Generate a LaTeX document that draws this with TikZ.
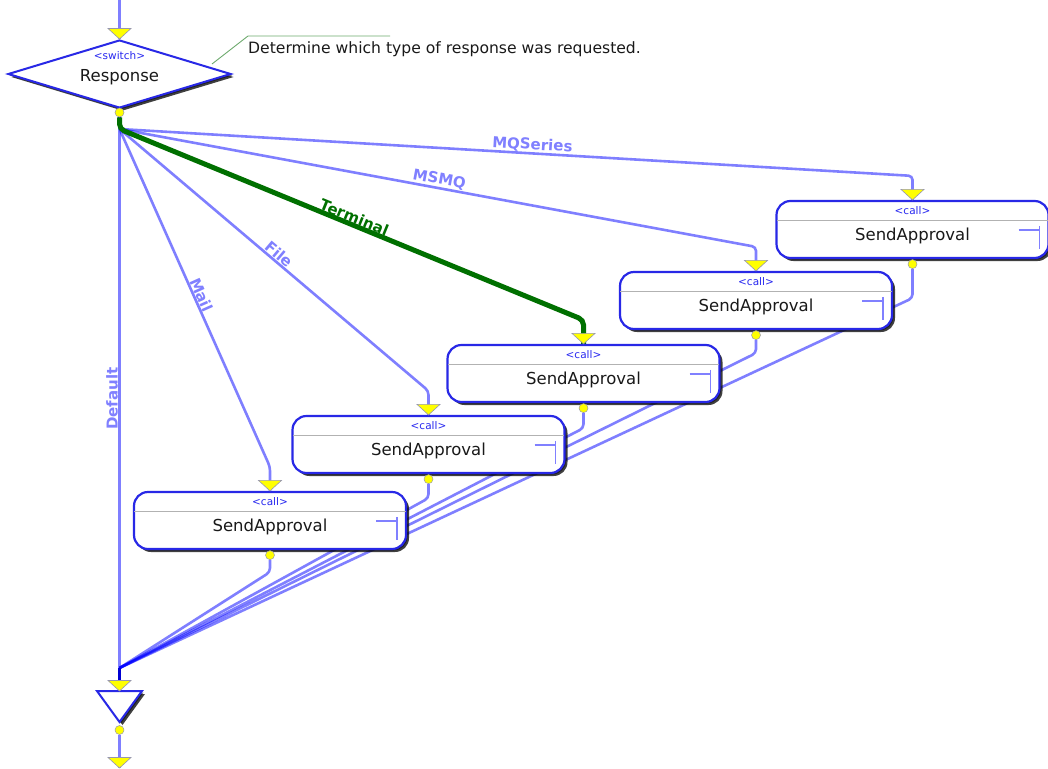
\documentclass[tikz,border=0pt]{standalone}
\usepackage{fontspec}
\setmainfont{DejaVu Sans}
\usetikzlibrary{shapes.geometric,shadows,calc}
\pgfdeclarelayer{bg}
\pgfdeclarelayer{paper}
\pgfsetlayers{paper,bg,main}

\definecolor{flowblue}{RGB}{0,0,255}
\definecolor{lineblue}{RGB}{128,128,255}
\definecolor{boxblue}{RGB}{40,40,230}
\definecolor{termgreen}{RGB}{0,112,0}
\definecolor{notegreen}{RGB}{110,170,110}
\definecolor{tagblue}{RGB}{40,40,240}
\definecolor{darkflow}{RGB}{0,0,210}
\definecolor{triyellow}{RGB}{255,255,0}
\definecolor{trioutline}{RGB}{150,150,175}

\newcommand{\mkintri}[1]{%
  \filldraw[tri] ($(#1)+(-11.5,-10.5)$) -- ($(#1)+(11.5,-10.5)$) -- (#1) -- cycle;}

\newcommand{\mkcallbox}[3]{% name, center x, top y
  \node[callbox] (#1) at (#2,#3+28.5) {};
  \draw[divider] ($(#1.north west)+(1.5,20)$) -- ($(#1.north east)+(-1.5,20)$);
  \node[tagtext, anchor=base] at ($(#1.north)+(0,15)$) {<call>};
  \node[maintext, anchor=base] at ($(#1.north)+(0,41)$) {SendApproval};
  \draw[icon] ($(#1.north east)+(-31,30)$) -- ($(#1.north east)+(-10,30)$);
  \draw[icon] ($(#1.north east)+(-10,26)$) -- ($(#1.north east)+(-10,49)$);
  \mkintri{#1.north}
  \node[dot] (#1o) at ($(#1.south)+(0,5)$) {};
}

\begin{document}
\begin{tikzpicture}[x=1pt,y=-1pt,
  myshadow/.style={drop shadow={shadow xshift=1.5pt, shadow yshift=-1.5pt, fill=black, opacity=0.5},
                   drop shadow={shadow xshift=3pt, shadow yshift=-3pt, fill=black, opacity=0.75}},
  flow/.style={draw=flowblue, draw opacity=0.5, line width=2.6pt, rounded corners=4pt},
  termflow/.style={draw=termgreen, line width=5pt, rounded corners=5pt},
  darkline/.style={draw=darkflow, line width=3.5pt},
  lbl/.style={font=\fontsize{15}{15}\selectfont\bfseries, text=lineblue, sloped, above, inner sep=1.5pt, pos=0.5},
  termlbl/.style={lbl, text=termgreen},
  deflbl/.style={font=\fontsize{15}{15}\selectfont\bfseries, text=lineblue, rotate=90, anchor=south, inner sep=1.5pt, pos=0.5},
  callbox/.style={draw=boxblue, line width=2.2pt, fill=white, rounded corners=14pt, minimum width=272pt, minimum height=57pt, inner sep=0pt, myshadow},
  switchd/.style={diamond, draw=boxblue, line width=2pt, fill=white, minimum width=223pt, minimum height=68pt, inner sep=0pt, myshadow},
  tagtext/.style={font=\fontsize{10.5}{10.5}\selectfont, text=tagblue, inner sep=0pt},
  maintext/.style={font=\fontsize{16.5}{16.5}\selectfont, text=black!90, inner sep=0pt},
  notetext/.style={font=\fontsize{15.6}{15.6}\selectfont, text=black!90, inner sep=0pt},
  notelink/.style={draw=notegreen, line width=0.9pt},
  dot/.style={circle, fill=triyellow, draw=trioutline, line width=0.5pt, minimum size=9pt, inner sep=0pt},
  tri/.style={fill=triyellow, draw=trioutline, line width=0.6pt},
  divider/.style={draw=black!30, line width=0.8pt},
  icon/.style={draw=lineblue, line width=1.4pt},
  endtri/.style={draw=boxblue, line width=2pt, fill=white, myshadow}
]
\useasboundingbox (0,0) rectangle (1048,768);
\begin{pgfonlayer}{paper}
\fill[white] (0,0) rectangle (1048,768);
\end{pgfonlayer}

% switch
\coordinate (in) at (119.5,0);
\node[switchd] (sw) at (119.5,74) {};
\node[tagtext, anchor=base] at (119.5,59.5) {<switch>};
\node[maintext, anchor=base] at (119.5,81.5) {Response};
\node[dot] (swo) at (119.5,112.5) {};
\coordinate (fork) at (119.5,129);
\mkintri{sw.north}

% comment
\node[notetext, anchor=base west] (note) at (248,54) {Determine which type of response was requested.};
\coordinate (nl0) at (212,64);
\coordinate (nl1) at (248,36);
\coordinate (nl2) at (390,36);
\draw[notelink] (nl0) -- (nl1) -- (nl2);

% call boxes
\mkcallbox{A}{270}{492}
\mkcallbox{B}{428.5}{416}
\mkcallbox{C}{583.5}{345}
\mkcallbox{D}{756}{272}
\mkcallbox{E}{912.5}{201}

% end
\coordinate (M) at (119.5,668);
\coordinate (endtop) at (119.5,691);
\filldraw[endtri] (97,691) -- (142,691) -- (119.5,722) -- cycle;
\mkintri{endtop}
\node[dot] (endo) at (119.5,730) {};
\coordinate (out) at (119.5,768);
\mkintri{out}

\coordinate (bA) at ($(A.north)+(0,-24)$);
\coordinate (bB) at ($(B.north)+(0,-24)$);
\coordinate (bC) at ($(C.north)+(0,-24)$);
\coordinate (bD) at ($(D.north)+(0,-24)$);
\coordinate (bE) at ($(E.north)+(0,-24)$);

\begin{pgfonlayer}{bg}
\draw[flow] (in) -- (sw.north);
\draw[flow] (swo) -- (fork) -- (M);
\draw[flow] (swo) -- (fork) -- (bA) -- (A.north);
\draw[flow] (swo) -- (fork) -- (bB) -- (B.north);
\draw[flow] (swo) -- (fork) -- (bD) -- (D.north);
\draw[flow] (swo) -- (fork) -- (bE) -- (E.north);
\draw[termflow] (swo) -- (fork) -- (bC) -- (C.north);
% returns
\draw[flow] (Ao) -- ($(Ao)+(0,17)$) -- (M);
\draw[flow] (Bo) -- ($(Bo)+(0,19)$) -- (M);
\draw[flow] (Co) -- ($(Co)+(0,20)$) -- (M);
\draw[flow] (Do) -- ($(Do)+(0,18)$) -- (M);
\draw[flow] (Eo) -- ($(Eo)+(0,34)$) -- (M);
\draw[darkline] (M) -- (endtop);
\draw[flow] (endo) -- (out);
\end{pgfonlayer}

% branch labels
\path (fork) -- node[deflbl]{Default} (M);
\path (fork) -- node[lbl]{Mail} (bA);
\path (fork) -- node[lbl]{File} (bB);
\path (fork) -- node[termlbl]{Terminal} (bC);
\path (fork) -- node[lbl]{MSMQ} (bD);
\path (fork) -- node[lbl, pos=0.52]{MQSeries} (bE);
\end{tikzpicture}
\end{document}
